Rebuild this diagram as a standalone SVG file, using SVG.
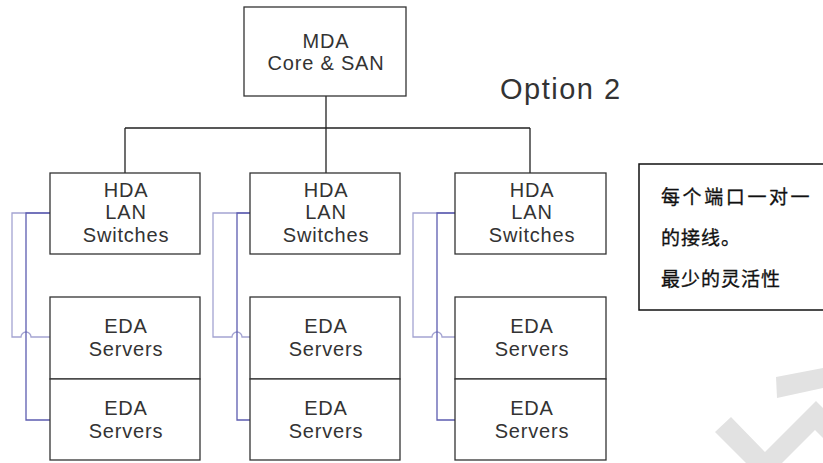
<svg xmlns="http://www.w3.org/2000/svg" width="823" height="463" viewBox="0 0 823 463">
<style>
.box{fill:#fff;stroke:#333;stroke-width:1.3}
.t{font-family:"Liberation Sans",Arial,sans-serif;font-size:20px;letter-spacing:0.8px;fill:#333;text-anchor:middle}
.ln{fill:none;stroke:#222;stroke-width:1.3}
.b1{fill:none;stroke:#5c5cb0;stroke-width:1.3}
.b2{fill:none;stroke:#a4a4d2;stroke-width:1.3}
.cn{font-family:"Noto Sans CJK SC",sans-serif;font-size:19px;fill:#111;stroke:#111;stroke-width:0.3;letter-spacing:1px}
</style>
<rect width="823" height="463" fill="#fff"/>
<polygon points="776,377 823,368 823,388 777,398" fill="#e2e2e2"/>
<polygon points="715,432 731,417 765,452 816,401 823,408 823,438 815,430 782,463 746,463" fill="#e2e2e2"/>
<g id="connectors">
<path class="ln" d="M326,96 V128 M125,128 H530 M125,128 V173 M326,128 V173 M530,128 V173"/>
<path class="b2" d="M50,213 H12 V337 H21 A5,5 0 0 1 31,337 H50"/>
<path class="b1" d="M50,213 H26 V420 H50"/>
<path class="b2" d="M250,213 H213 V337 H232 A5,5 0 0 1 242,337 H250"/>
<path class="b1" d="M260,213 H237 V420 H260"/>
<path class="b2" d="M455,213 H413 V337 H432 A5,5 0 0 1 442,337 H455"/>
<path class="b1" d="M455,213 H437 V420 H458"/>
</g>
<g id="mda"><rect class="box" x="244" y="7" width="162" height="89"/>
<text class="t" x="326" y="48">MDA</text><text class="t" x="326" y="70">Core &amp; SAN</text></g>
<text x="500" y="99" style="font-family:'Liberation Sans',Arial,sans-serif;font-size:29px;letter-spacing:1.5px;fill:#333">Option 2</text>
<g id="hda1"><rect class="box" x="50" y="173" width="150" height="81"/>
<text class="t" x="126" y="197">HDA</text><text class="t" x="126" y="219">LAN</text><text class="t" x="126" y="242">Switches</text></g>
<g id="hda2"><rect class="box" x="250" y="173" width="150" height="81"/>
<text class="t" x="326" y="197">HDA</text><text class="t" x="326" y="219">LAN</text><text class="t" x="326" y="242">Switches</text></g>
<g id="hda3"><rect class="box" x="455" y="173" width="151" height="81"/>
<text class="t" x="532" y="197">HDA</text><text class="t" x="532" y="219">LAN</text><text class="t" x="532" y="242">Switches</text></g>
<g id="eda1a"><rect class="box" x="50" y="297" width="150" height="82"/>
<text class="t" x="126" y="333">EDA</text><text class="t" x="126" y="356">Servers</text></g>
<g id="eda1b"><rect class="box" x="50" y="379" width="150" height="81"/>
<text class="t" x="126" y="415">EDA</text><text class="t" x="126" y="438">Servers</text></g>
<g id="eda2a"><rect class="box" x="250" y="297" width="150" height="82"/>
<text class="t" x="326" y="333">EDA</text><text class="t" x="326" y="356">Servers</text></g>
<g id="eda2b"><rect class="box" x="250" y="379" width="150" height="81"/>
<text class="t" x="326" y="415">EDA</text><text class="t" x="326" y="438">Servers</text></g>
<g id="eda3a"><rect class="box" x="455" y="297" width="151" height="82"/>
<text class="t" x="532" y="333">EDA</text><text class="t" x="532" y="356">Servers</text></g>
<g id="eda3b"><rect class="box" x="455" y="379" width="151" height="81"/>
<text class="t" x="532" y="415">EDA</text><text class="t" x="532" y="438">Servers</text></g>
<g id="note"><rect x="639" y="164" width="190" height="146" fill="#fff" stroke="#111" stroke-width="1.5"/>
<text class="cn" x="661" y="204" style="letter-spacing:2.6px">每个端口一对一</text>
<text class="cn" x="661" y="245">的接线。</text>
<text class="cn" x="661" y="286">最少的灵活性</text></g>
</svg>
